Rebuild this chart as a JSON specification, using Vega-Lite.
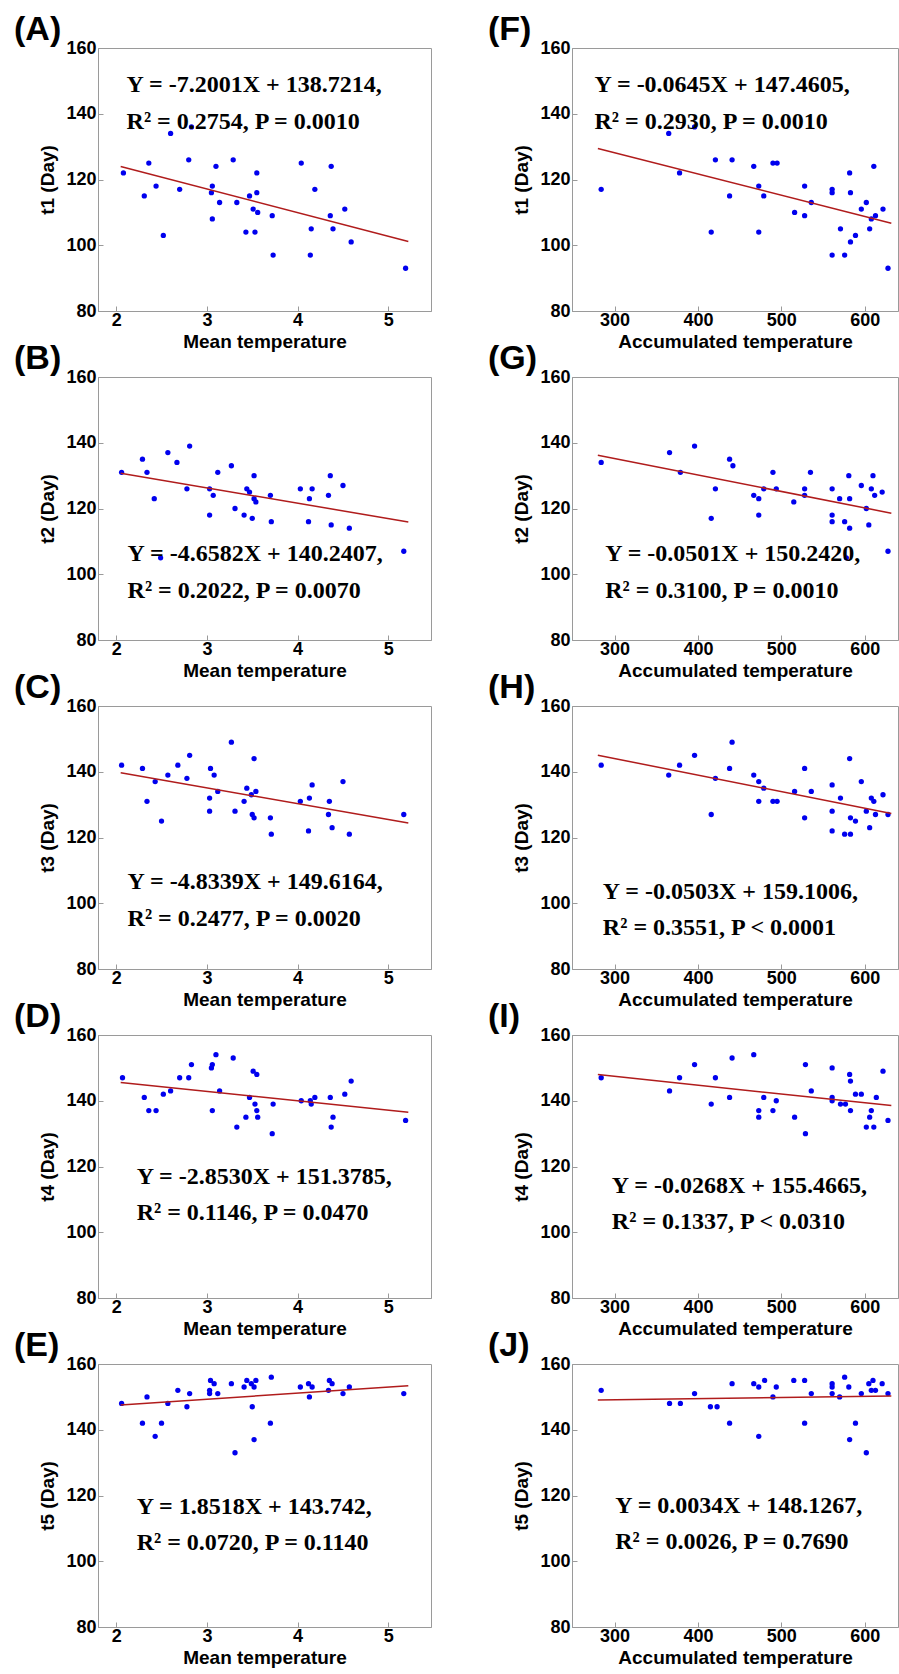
{
"$schema": "https://vega.github.io/schema/vega-lite/v6.json",
"padding": {"left": 13, "top": 12, "right": 0, "bottom": 2},
"background": "white",
"columns": 2,
"spacing": {"row": 66, "column": 141},
"bounds": "flush",
"config": {
 "font": "Liberation Sans",
 "view": {"stroke": "#9a9a9a", "strokeWidth": 1},
 "axis": {"format": "d", "labelFont": "Liberation Sans", "labelFontWeight": "bold", "labelFontSize": 18, "labelColor": "black", "titleFont": "Liberation Sans", "titleFontWeight": "bold", "titleFontSize": 19, "titleColor": "black", "domainColor": "#9a9a9a", "tickColor": "#9a9a9a", "tickSize": -5, "grid": false, "labelPadding": 7},
 "axisX": {"titlePadding": 3, "labelPadding": 5},
 "axisY": {"titlePadding": 8},
 "title": {"font": "Liberation Sans", "fontSize": 34, "fontWeight": "bold", "anchor": "start", "frame": "group", "dx": -84, "color": "black", "offset": -8, "baseline": "alphabetic"},
 "circle": {"color": "#0000ee", "size": 28, "opacity": 1},
 "line": {"color": "#b01c1c", "strokeWidth": 1.5},
 "text": {"font": "Liberation Serif", "fontWeight": "bold", "fontSize": 24, "align": "left", "baseline": "alphabetic", "color": "black"}
},
"datasets": {
 "pts": [
{"p":"A","x":2.08,"y":122},{"p":"A","x":2.31,"y":115},{"p":"A","x":2.36,"y":125},{"p":"A","x":2.44,"y":118},{"p":"A","x":2.52,"y":103},{"p":"A","x":2.60,"y":134},{"p":"A","x":2.70,"y":117},{"p":"A","x":2.80,"y":126},{"p":"A","x":2.83,"y":136},{"p":"A","x":3.05,"y":116},{"p":"A","x":3.06,"y":118},{"p":"A","x":3.06,"y":108},{"p":"A","x":3.10,"y":124},{"p":"A","x":3.14,"y":113},{"p":"A","x":3.29,"y":126},{"p":"A","x":3.33,"y":113},{"p":"A","x":3.43,"y":104},{"p":"A","x":3.47,"y":115},{"p":"A","x":3.51,"y":111},{"p":"A","x":3.53,"y":104},{"p":"A","x":3.55,"y":122},{"p":"A","x":3.55,"y":116},{"p":"A","x":3.56,"y":110},{"p":"A","x":3.72,"y":109},{"p":"A","x":3.73,"y":97},{"p":"A","x":4.04,"y":125},{"p":"A","x":4.14,"y":97},{"p":"A","x":4.15,"y":105},{"p":"A","x":4.19,"y":117},{"p":"A","x":4.36,"y":109},{"p":"A","x":4.37,"y":124},{"p":"A","x":4.39,"y":105},{"p":"A","x":4.52,"y":111},{"p":"A","x":4.59,"y":101},{"p":"A","x":5.19,"y":93},
{"p":"B","x":2.06,"y":131},{"p":"B","x":2.29,"y":135},{"p":"B","x":2.34,"y":131},{"p":"B","x":2.42,"y":123},{"p":"B","x":2.49,"y":105},{"p":"B","x":2.57,"y":137},{"p":"B","x":2.67,"y":134},{"p":"B","x":2.78,"y":126},{"p":"B","x":2.81,"y":139},{"p":"B","x":3.03,"y":118},{"p":"B","x":3.03,"y":126},{"p":"B","x":3.07,"y":124},{"p":"B","x":3.12,"y":131},{"p":"B","x":3.27,"y":133},{"p":"B","x":3.31,"y":120},{"p":"B","x":3.41,"y":118},{"p":"B","x":3.44,"y":126},{"p":"B","x":3.47,"y":125},{"p":"B","x":3.50,"y":117},{"p":"B","x":3.52,"y":130},{"p":"B","x":3.52,"y":123},{"p":"B","x":3.54,"y":122},{"p":"B","x":3.70,"y":124},{"p":"B","x":3.71,"y":116},{"p":"B","x":4.03,"y":126},{"p":"B","x":4.12,"y":116},{"p":"B","x":4.13,"y":123},{"p":"B","x":4.16,"y":126},{"p":"B","x":4.34,"y":124},{"p":"B","x":4.36,"y":130},{"p":"B","x":4.37,"y":115},{"p":"B","x":4.50,"y":127},{"p":"B","x":4.57,"y":114},{"p":"B","x":5.17,"y":107},
{"p":"C","x":2.06,"y":142},{"p":"C","x":2.29,"y":141},{"p":"C","x":2.34,"y":131},{"p":"C","x":2.43,"y":137},{"p":"C","x":2.50,"y":125},{"p":"C","x":2.57,"y":139},{"p":"C","x":2.68,"y":142},{"p":"C","x":2.78,"y":138},{"p":"C","x":2.81,"y":145},{"p":"C","x":3.03,"y":128},{"p":"C","x":3.03,"y":132},{"p":"C","x":3.04,"y":141},{"p":"C","x":3.08,"y":139},{"p":"C","x":3.12,"y":134},{"p":"C","x":3.27,"y":149},{"p":"C","x":3.31,"y":128},{"p":"C","x":3.41,"y":131},{"p":"C","x":3.44,"y":135},{"p":"C","x":3.49,"y":133},{"p":"C","x":3.50,"y":127},{"p":"C","x":3.52,"y":126},{"p":"C","x":3.52,"y":144},{"p":"C","x":3.54,"y":134},{"p":"C","x":3.70,"y":126},{"p":"C","x":3.71,"y":121},{"p":"C","x":4.03,"y":131},{"p":"C","x":4.12,"y":122},{"p":"C","x":4.13,"y":132},{"p":"C","x":4.16,"y":136},{"p":"C","x":4.34,"y":127},{"p":"C","x":4.35,"y":131},{"p":"C","x":4.38,"y":123},{"p":"C","x":4.50,"y":137},{"p":"C","x":4.57,"y":121},{"p":"C","x":5.17,"y":127},
{"p":"D","x":2.07,"y":147},{"p":"D","x":2.31,"y":141},{"p":"D","x":2.36,"y":137},{"p":"D","x":2.44,"y":137},{"p":"D","x":2.52,"y":142},{"p":"D","x":2.60,"y":143},{"p":"D","x":2.70,"y":147},{"p":"D","x":2.80,"y":147},{"p":"D","x":2.83,"y":151},{"p":"D","x":3.05,"y":150},{"p":"D","x":3.06,"y":151},{"p":"D","x":3.06,"y":137},{"p":"D","x":3.10,"y":154},{"p":"D","x":3.14,"y":143},{"p":"D","x":3.29,"y":153},{"p":"D","x":3.33,"y":132},{"p":"D","x":3.43,"y":135},{"p":"D","x":3.47,"y":141},{"p":"D","x":3.51,"y":149},{"p":"D","x":3.53,"y":139},{"p":"D","x":3.55,"y":148},{"p":"D","x":3.55,"y":137},{"p":"D","x":3.56,"y":135},{"p":"D","x":3.72,"y":130},{"p":"D","x":3.73,"y":139},{"p":"D","x":4.04,"y":140},{"p":"D","x":4.14,"y":140},{"p":"D","x":4.15,"y":139},{"p":"D","x":4.19,"y":141},{"p":"D","x":4.36,"y":141},{"p":"D","x":4.37,"y":132},{"p":"D","x":4.39,"y":135},{"p":"D","x":4.52,"y":142},{"p":"D","x":4.59,"y":146},{"p":"D","x":5.19,"y":134},
{"p":"E","x":2.06,"y":148},{"p":"E","x":2.29,"y":142},{"p":"E","x":2.34,"y":150},{"p":"E","x":2.43,"y":138},{"p":"E","x":2.50,"y":142},{"p":"E","x":2.57,"y":148},{"p":"E","x":2.68,"y":152},{"p":"E","x":2.78,"y":147},{"p":"E","x":2.81,"y":151},{"p":"E","x":3.03,"y":151},{"p":"E","x":3.03,"y":152},{"p":"E","x":3.04,"y":155},{"p":"E","x":3.08,"y":154},{"p":"E","x":3.12,"y":151},{"p":"E","x":3.27,"y":154},{"p":"E","x":3.31,"y":133},{"p":"E","x":3.41,"y":153},{"p":"E","x":3.44,"y":155},{"p":"E","x":3.49,"y":154},{"p":"E","x":3.50,"y":147},{"p":"E","x":3.52,"y":137},{"p":"E","x":3.52,"y":153},{"p":"E","x":3.54,"y":155},{"p":"E","x":3.70,"y":142},{"p":"E","x":3.71,"y":156},{"p":"E","x":4.03,"y":153},{"p":"E","x":4.12,"y":154},{"p":"E","x":4.13,"y":150},{"p":"E","x":4.16,"y":153},{"p":"E","x":4.34,"y":152},{"p":"E","x":4.35,"y":155},{"p":"E","x":4.38,"y":154},{"p":"E","x":4.50,"y":151},{"p":"E","x":4.57,"y":153},{"p":"E","x":5.17,"y":151},
{"p":"F","x":284,"y":117},{"p":"F","x":365,"y":134},{"p":"F","x":378,"y":122},{"p":"F","x":396,"y":136},{"p":"F","x":416,"y":104},{"p":"F","x":421,"y":126},{"p":"F","x":438,"y":115},{"p":"F","x":441,"y":126},{"p":"F","x":467,"y":124},{"p":"F","x":473,"y":118},{"p":"F","x":473,"y":104},{"p":"F","x":479,"y":115},{"p":"F","x":490,"y":125},{"p":"F","x":495,"y":125},{"p":"F","x":516,"y":110},{"p":"F","x":528,"y":118},{"p":"F","x":528,"y":109},{"p":"F","x":536,"y":113},{"p":"F","x":561,"y":117},{"p":"F","x":561,"y":116},{"p":"F","x":561,"y":97},{"p":"F","x":571,"y":105},{"p":"F","x":576,"y":97},{"p":"F","x":582,"y":122},{"p":"F","x":583,"y":116},{"p":"F","x":583,"y":101},{"p":"F","x":589,"y":103},{"p":"F","x":596,"y":111},{"p":"F","x":602,"y":113},{"p":"F","x":606,"y":105},{"p":"F","x":608,"y":108},{"p":"F","x":611,"y":124},{"p":"F","x":613,"y":109},{"p":"F","x":622,"y":111},{"p":"F","x":628,"y":93},
{"p":"G","x":284,"y":134},{"p":"G","x":366,"y":137},{"p":"G","x":379,"y":131},{"p":"G","x":396,"y":139},{"p":"G","x":416,"y":117},{"p":"G","x":421,"y":126},{"p":"G","x":438,"y":135},{"p":"G","x":442,"y":133},{"p":"G","x":467,"y":124},{"p":"G","x":473,"y":123},{"p":"G","x":473,"y":118},{"p":"G","x":479,"y":126},{"p":"G","x":490,"y":131},{"p":"G","x":494,"y":126},{"p":"G","x":515,"y":122},{"p":"G","x":528,"y":126},{"p":"G","x":528,"y":124},{"p":"G","x":535,"y":131},{"p":"G","x":561,"y":126},{"p":"G","x":561,"y":118},{"p":"G","x":561,"y":116},{"p":"G","x":570,"y":123},{"p":"G","x":576,"y":116},{"p":"G","x":581,"y":130},{"p":"G","x":582,"y":123},{"p":"G","x":582,"y":114},{"p":"G","x":578,"y":105},{"p":"G","x":596,"y":127},{"p":"G","x":602,"y":120},{"p":"G","x":605,"y":115},{"p":"G","x":608,"y":126},{"p":"G","x":610,"y":130},{"p":"G","x":612,"y":124},{"p":"G","x":621,"y":125},{"p":"G","x":628,"y":107},
{"p":"H","x":284,"y":142},{"p":"H","x":365,"y":139},{"p":"H","x":378,"y":142},{"p":"H","x":396,"y":145},{"p":"H","x":416,"y":127},{"p":"H","x":421,"y":138},{"p":"H","x":438,"y":141},{"p":"H","x":441,"y":149},{"p":"H","x":467,"y":139},{"p":"H","x":473,"y":137},{"p":"H","x":473,"y":131},{"p":"H","x":479,"y":135},{"p":"H","x":490,"y":131},{"p":"H","x":495,"y":131},{"p":"H","x":516,"y":134},{"p":"H","x":528,"y":141},{"p":"H","x":528,"y":126},{"p":"H","x":536,"y":134},{"p":"H","x":561,"y":136},{"p":"H","x":561,"y":128},{"p":"H","x":561,"y":122},{"p":"H","x":571,"y":132},{"p":"H","x":576,"y":121},{"p":"H","x":582,"y":144},{"p":"H","x":583,"y":126},{"p":"H","x":583,"y":121},{"p":"H","x":589,"y":125},{"p":"H","x":596,"y":137},{"p":"H","x":602,"y":128},{"p":"H","x":606,"y":123},{"p":"H","x":608,"y":132},{"p":"H","x":611,"y":131},{"p":"H","x":613,"y":127},{"p":"H","x":622,"y":133},{"p":"H","x":628,"y":127},
{"p":"I","x":284,"y":147},{"p":"I","x":366,"y":143},{"p":"I","x":378,"y":147},{"p":"I","x":396,"y":151},{"p":"I","x":416,"y":139},{"p":"I","x":421,"y":147},{"p":"I","x":438,"y":141},{"p":"I","x":441,"y":153},{"p":"I","x":467,"y":154},{"p":"I","x":473,"y":137},{"p":"I","x":473,"y":135},{"p":"I","x":479,"y":141},{"p":"I","x":490,"y":137},{"p":"I","x":494,"y":140},{"p":"I","x":516,"y":135},{"p":"I","x":529,"y":151},{"p":"I","x":529,"y":130},{"p":"I","x":536,"y":143},{"p":"I","x":561,"y":150},{"p":"I","x":561,"y":141},{"p":"I","x":561,"y":140},{"p":"I","x":571,"y":139},{"p":"I","x":577,"y":139},{"p":"I","x":582,"y":148},{"p":"I","x":583,"y":146},{"p":"I","x":583,"y":137},{"p":"I","x":589,"y":142},{"p":"I","x":596,"y":142},{"p":"I","x":602,"y":132},{"p":"I","x":606,"y":135},{"p":"I","x":608,"y":137},{"p":"I","x":611,"y":132},{"p":"I","x":614,"y":141},{"p":"I","x":622,"y":149},{"p":"I","x":628,"y":134},
{"p":"J","x":284,"y":152},{"p":"J","x":366,"y":148},{"p":"J","x":379,"y":148},{"p":"J","x":396,"y":151},{"p":"J","x":415,"y":147},{"p":"J","x":423,"y":147},{"p":"J","x":438,"y":142},{"p":"J","x":441,"y":154},{"p":"J","x":467,"y":154},{"p":"J","x":473,"y":138},{"p":"J","x":473,"y":153},{"p":"J","x":480,"y":155},{"p":"J","x":490,"y":150},{"p":"J","x":494,"y":153},{"p":"J","x":515,"y":155},{"p":"J","x":528,"y":155},{"p":"J","x":528,"y":142},{"p":"J","x":536,"y":151},{"p":"J","x":561,"y":154},{"p":"J","x":561,"y":153},{"p":"J","x":561,"y":151},{"p":"J","x":570,"y":150},{"p":"J","x":576,"y":156},{"p":"J","x":581,"y":153},{"p":"J","x":582,"y":137},{"p":"J","x":589,"y":142},{"p":"J","x":596,"y":151},{"p":"J","x":602,"y":133},{"p":"J","x":605,"y":154},{"p":"J","x":608,"y":152},{"p":"J","x":610,"y":155},{"p":"J","x":613,"y":152},{"p":"J","x":621,"y":154},{"p":"J","x":628,"y":151}
 ],
 "fits": [
{"p":"A","x":2.05,"y":123.96},{"p":"A","x":5.22,"y":101.14},
{"p":"B","x":2.05,"y":130.69},{"p":"B","x":5.22,"y":115.92},
{"p":"C","x":2.05,"y":139.71},{"p":"C","x":5.22,"y":124.38},
{"p":"D","x":2.05,"y":145.53},{"p":"D","x":5.22,"y":136.49},
{"p":"E","x":2.05,"y":147.54},{"p":"E","x":5.22,"y":153.41},
{"p":"F","x":280,"y":129.40},{"p":"F","x":632,"y":106.70},
{"p":"G","x":280,"y":136.21},{"p":"G","x":632,"y":118.58},
{"p":"H","x":280,"y":145.02},{"p":"H","x":632,"y":127.31},
{"p":"I","x":280,"y":147.96},{"p":"I","x":632,"y":138.53},
{"p":"J","x":280,"y":149.08},{"p":"J","x":632,"y":150.28}
 ],
 "notes": [
{"p":"A","l1":"Y = -7.2001X + 138.7214,","l2":"R² = 0.2754, P = 0.0010"},
{"p":"B","l1":"Y = -4.6582X + 140.2407,","l2":"R² = 0.2022, P = 0.0070"},
{"p":"C","l1":"Y = -4.8339X + 149.6164,","l2":"R² = 0.2477, P = 0.0020"},
{"p":"D","l1":"Y = -2.8530X + 151.3785,","l2":"R² = 0.1146, P = 0.0470"},
{"p":"E","l1":"Y = 1.8518X + 143.742,","l2":"R² = 0.0720, P = 0.1140"},
{"p":"F","l1":"Y = -0.0645X + 147.4605,","l2":"R² = 0.2930, P = 0.0010"},
{"p":"G","l1":"Y = -0.0501X + 150.2420,","l2":"R² = 0.3100, P = 0.0010"},
{"p":"H","l1":"Y = -0.0503X + 159.1006,","l2":"R² = 0.3551, P < 0.0001"},
{"p":"I","l1":"Y = -0.0268X + 155.4665,","l2":"R² = 0.1337, P < 0.0310"},
{"p":"J","l1":"Y = 0.0034X + 148.1267,","l2":"R² = 0.0026, P = 0.7690"}
 ]
},
"concat": [
{"width":333,"height":263,"title":{"text":"(A)"},"layer":[
 {"data":{"name":"pts"},"transform":[{"filter":"datum.p=='A'"}],"mark":"circle","encoding":{"x":{"field":"x","type":"quantitative","scale":{"domain":[1.8,5.47],"nice":false},"axis":{"values":[2,3,4,5],"title":"Mean temperature"}},"y":{"field":"y","type":"quantitative","scale":{"domain":[80,160],"nice":false},"axis":{"values":[80,100,120,140,160],"title":"t1 (Day)"}}}},
 {"data":{"name":"fits"},"transform":[{"filter":"datum.p=='A'"}],"mark":"line","encoding":{"x":{"field":"x","type":"quantitative"},"y":{"field":"y","type":"quantitative"}}},
 {"data":{"name":"notes"},"transform":[{"filter":"datum.p=='A'"}],"mark":"text","encoding":{"x":{"datum":2.115,"type":"quantitative"},"y":{"datum":146.7,"type":"quantitative"},"text":{"field":"l1"}}},
 {"data":{"name":"notes"},"transform":[{"filter":"datum.p=='A'"}],"mark":"text","encoding":{"x":{"datum":2.115,"type":"quantitative"},"y":{"datum":135.5,"type":"quantitative"},"text":{"field":"l2"}}}
]},
{"width":326,"height":263,"title":{"text":"(F)"},"layer":[
 {"data":{"name":"pts"},"transform":[{"filter":"datum.p=='F'"}],"mark":"circle","encoding":{"x":{"field":"x","type":"quantitative","scale":{"domain":[249,640],"nice":false},"axis":{"values":[300,400,500,600],"title":"Accumulated temperature"}},"y":{"field":"y","type":"quantitative","scale":{"domain":[80,160],"nice":false},"axis":{"values":[80,100,120,140,160],"title":"t1 (Day)"}}}},
 {"data":{"name":"fits"},"transform":[{"filter":"datum.p=='F'"}],"mark":"line","encoding":{"x":{"field":"x","type":"quantitative"},"y":{"field":"y","type":"quantitative"}}},
 {"data":{"name":"notes"},"transform":[{"filter":"datum.p=='F'"}],"mark":"text","encoding":{"x":{"datum":276,"type":"quantitative"},"y":{"datum":146.7,"type":"quantitative"},"text":{"field":"l1"}}},
 {"data":{"name":"notes"},"transform":[{"filter":"datum.p=='F'"}],"mark":"text","encoding":{"x":{"datum":276,"type":"quantitative"},"y":{"datum":135.5,"type":"quantitative"},"text":{"field":"l2"}}}
]},
{"width":333,"height":263,"title":{"text":"(B)"},"layer":[
 {"data":{"name":"pts"},"transform":[{"filter":"datum.p=='B'"}],"mark":"circle","encoding":{"x":{"field":"x","type":"quantitative","scale":{"domain":[1.8,5.47],"nice":false},"axis":{"values":[2,3,4,5],"title":"Mean temperature"}},"y":{"field":"y","type":"quantitative","scale":{"domain":[80,160],"nice":false},"axis":{"values":[80,100,120,140,160],"title":"t2 (Day)"}}}},
 {"data":{"name":"fits"},"transform":[{"filter":"datum.p=='B'"}],"mark":"line","encoding":{"x":{"field":"x","type":"quantitative"},"y":{"field":"y","type":"quantitative"}}},
 {"data":{"name":"notes"},"transform":[{"filter":"datum.p=='B'"}],"mark":"text","encoding":{"x":{"datum":2.126,"type":"quantitative"},"y":{"datum":103.9,"type":"quantitative"},"text":{"field":"l1"}}},
 {"data":{"name":"notes"},"transform":[{"filter":"datum.p=='B'"}],"mark":"text","encoding":{"x":{"datum":2.126,"type":"quantitative"},"y":{"datum":92.7,"type":"quantitative"},"text":{"field":"l2"}}}
]},
{"width":326,"height":263,"title":{"text":"(G)"},"layer":[
 {"data":{"name":"pts"},"transform":[{"filter":"datum.p=='G'"}],"mark":"circle","encoding":{"x":{"field":"x","type":"quantitative","scale":{"domain":[249,640],"nice":false},"axis":{"values":[300,400,500,600],"title":"Accumulated temperature"}},"y":{"field":"y","type":"quantitative","scale":{"domain":[80,160],"nice":false},"axis":{"values":[80,100,120,140,160],"title":"t2 (Day)"}}}},
 {"data":{"name":"fits"},"transform":[{"filter":"datum.p=='G'"}],"mark":"line","encoding":{"x":{"field":"x","type":"quantitative"},"y":{"field":"y","type":"quantitative"}}},
 {"data":{"name":"notes"},"transform":[{"filter":"datum.p=='G'"}],"mark":"text","encoding":{"x":{"datum":288.8,"type":"quantitative"},"y":{"datum":103.9,"type":"quantitative"},"text":{"field":"l1"}}},
 {"data":{"name":"notes"},"transform":[{"filter":"datum.p=='G'"}],"mark":"text","encoding":{"x":{"datum":288.8,"type":"quantitative"},"y":{"datum":92.7,"type":"quantitative"},"text":{"field":"l2"}}}
]},
{"width":333,"height":263,"title":{"text":"(C)"},"layer":[
 {"data":{"name":"pts"},"transform":[{"filter":"datum.p=='C'"}],"mark":"circle","encoding":{"x":{"field":"x","type":"quantitative","scale":{"domain":[1.8,5.47],"nice":false},"axis":{"values":[2,3,4,5],"title":"Mean temperature"}},"y":{"field":"y","type":"quantitative","scale":{"domain":[80,160],"nice":false},"axis":{"values":[80,100,120,140,160],"title":"t3 (Day)"}}}},
 {"data":{"name":"fits"},"transform":[{"filter":"datum.p=='C'"}],"mark":"line","encoding":{"x":{"field":"x","type":"quantitative"},"y":{"field":"y","type":"quantitative"}}},
 {"data":{"name":"notes"},"transform":[{"filter":"datum.p=='C'"}],"mark":"text","encoding":{"x":{"datum":2.126,"type":"quantitative"},"y":{"datum":104.2,"type":"quantitative"},"text":{"field":"l1"}}},
 {"data":{"name":"notes"},"transform":[{"filter":"datum.p=='C'"}],"mark":"text","encoding":{"x":{"datum":2.126,"type":"quantitative"},"y":{"datum":93.1,"type":"quantitative"},"text":{"field":"l2"}}}
]},
{"width":326,"height":263,"title":{"text":"(H)"},"layer":[
 {"data":{"name":"pts"},"transform":[{"filter":"datum.p=='H'"}],"mark":"circle","encoding":{"x":{"field":"x","type":"quantitative","scale":{"domain":[249,640],"nice":false},"axis":{"values":[300,400,500,600],"title":"Accumulated temperature"}},"y":{"field":"y","type":"quantitative","scale":{"domain":[80,160],"nice":false},"axis":{"values":[80,100,120,140,160],"title":"t3 (Day)"}}}},
 {"data":{"name":"fits"},"transform":[{"filter":"datum.p=='H'"}],"mark":"line","encoding":{"x":{"field":"x","type":"quantitative"},"y":{"field":"y","type":"quantitative"}}},
 {"data":{"name":"notes"},"transform":[{"filter":"datum.p=='H'"}],"mark":"text","encoding":{"x":{"datum":286,"type":"quantitative"},"y":{"datum":101.4,"type":"quantitative"},"text":{"field":"l1"}}},
 {"data":{"name":"notes"},"transform":[{"filter":"datum.p=='H'"}],"mark":"text","encoding":{"x":{"datum":286,"type":"quantitative"},"y":{"datum":90.3,"type":"quantitative"},"text":{"field":"l2"}}}
]},
{"width":333,"height":263,"title":{"text":"(D)"},"layer":[
 {"data":{"name":"pts"},"transform":[{"filter":"datum.p=='D'"}],"mark":"circle","encoding":{"x":{"field":"x","type":"quantitative","scale":{"domain":[1.8,5.47],"nice":false},"axis":{"values":[2,3,4,5],"title":"Mean temperature"}},"y":{"field":"y","type":"quantitative","scale":{"domain":[80,160],"nice":false},"axis":{"values":[80,100,120,140,160],"title":"t4 (Day)"}}}},
 {"data":{"name":"fits"},"transform":[{"filter":"datum.p=='D'"}],"mark":"line","encoding":{"x":{"field":"x","type":"quantitative"},"y":{"field":"y","type":"quantitative"}}},
 {"data":{"name":"notes"},"transform":[{"filter":"datum.p=='D'"}],"mark":"text","encoding":{"x":{"datum":2.226,"type":"quantitative"},"y":{"datum":114.6,"type":"quantitative"},"text":{"field":"l1"}}},
 {"data":{"name":"notes"},"transform":[{"filter":"datum.p=='D'"}],"mark":"text","encoding":{"x":{"datum":2.226,"type":"quantitative"},"y":{"datum":103.6,"type":"quantitative"},"text":{"field":"l2"}}}
]},
{"width":326,"height":263,"title":{"text":"(I)"},"layer":[
 {"data":{"name":"pts"},"transform":[{"filter":"datum.p=='I'"}],"mark":"circle","encoding":{"x":{"field":"x","type":"quantitative","scale":{"domain":[249,640],"nice":false},"axis":{"values":[300,400,500,600],"title":"Accumulated temperature"}},"y":{"field":"y","type":"quantitative","scale":{"domain":[80,160],"nice":false},"axis":{"values":[80,100,120,140,160],"title":"t4 (Day)"}}}},
 {"data":{"name":"fits"},"transform":[{"filter":"datum.p=='I'"}],"mark":"line","encoding":{"x":{"field":"x","type":"quantitative"},"y":{"field":"y","type":"quantitative"}}},
 {"data":{"name":"notes"},"transform":[{"filter":"datum.p=='I'"}],"mark":"text","encoding":{"x":{"datum":296.8,"type":"quantitative"},"y":{"datum":112.0,"type":"quantitative"},"text":{"field":"l1"}}},
 {"data":{"name":"notes"},"transform":[{"filter":"datum.p=='I'"}],"mark":"text","encoding":{"x":{"datum":296.8,"type":"quantitative"},"y":{"datum":100.9,"type":"quantitative"},"text":{"field":"l2"}}}
]},
{"width":333,"height":263,"title":{"text":"(E)"},"layer":[
 {"data":{"name":"pts"},"transform":[{"filter":"datum.p=='E'"}],"mark":"circle","encoding":{"x":{"field":"x","type":"quantitative","scale":{"domain":[1.8,5.47],"nice":false},"axis":{"values":[2,3,4,5],"title":"Mean temperature"}},"y":{"field":"y","type":"quantitative","scale":{"domain":[80,160],"nice":false},"axis":{"values":[80,100,120,140,160],"title":"t5 (Day)"}}}},
 {"data":{"name":"fits"},"transform":[{"filter":"datum.p=='E'"}],"mark":"line","encoding":{"x":{"field":"x","type":"quantitative"},"y":{"field":"y","type":"quantitative"}}},
 {"data":{"name":"notes"},"transform":[{"filter":"datum.p=='E'"}],"mark":"text","encoding":{"x":{"datum":2.226,"type":"quantitative"},"y":{"datum":114.5,"type":"quantitative"},"text":{"field":"l1"}}},
 {"data":{"name":"notes"},"transform":[{"filter":"datum.p=='E'"}],"mark":"text","encoding":{"x":{"datum":2.226,"type":"quantitative"},"y":{"datum":103.4,"type":"quantitative"},"text":{"field":"l2"}}}
]},
{"width":326,"height":263,"title":{"text":"(J)"},"layer":[
 {"data":{"name":"pts"},"transform":[{"filter":"datum.p=='J'"}],"mark":"circle","encoding":{"x":{"field":"x","type":"quantitative","scale":{"domain":[249,640],"nice":false},"axis":{"values":[300,400,500,600],"title":"Accumulated temperature"}},"y":{"field":"y","type":"quantitative","scale":{"domain":[80,160],"nice":false},"axis":{"values":[80,100,120,140,160],"title":"t5 (Day)"}}}},
 {"data":{"name":"fits"},"transform":[{"filter":"datum.p=='J'"}],"mark":"line","encoding":{"x":{"field":"x","type":"quantitative"},"y":{"field":"y","type":"quantitative"}}},
 {"data":{"name":"notes"},"transform":[{"filter":"datum.p=='J'"}],"mark":"text","encoding":{"x":{"datum":300.8,"type":"quantitative"},"y":{"datum":114.8,"type":"quantitative"},"text":{"field":"l1"}}},
 {"data":{"name":"notes"},"transform":[{"filter":"datum.p=='J'"}],"mark":"text","encoding":{"x":{"datum":300.8,"type":"quantitative"},"y":{"datum":103.6,"type":"quantitative"},"text":{"field":"l2"}}}
]}
]
}
